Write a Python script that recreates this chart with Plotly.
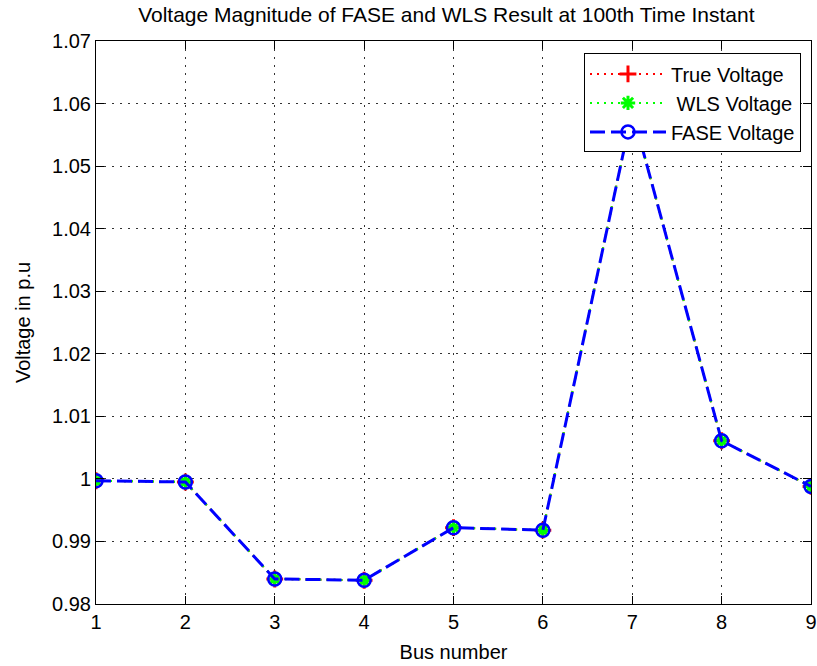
import plotly.graph_objects as go

# Bus indices and per-bus voltage magnitudes (p.u.) at the 100th time instant
bus_number = [1, 2, 3, 4, 5, 6, 7, 8, 9]
true_voltage = [0.9997, 0.9995, 0.9840, 0.9838, 0.9922, 0.9918, 1.0588, 1.0061, 0.9988]
wls_voltage = [0.9997, 0.9995, 0.9840, 0.9838, 0.9922, 0.9918, 1.0588, 1.0061, 0.9988]
fase_voltage = [0.9997, 0.9995, 0.9840, 0.9838, 0.9922, 0.9918, 1.0588, 1.0061, 0.9988]

y_tick_values = [0.98, 0.99, 1.00, 1.01, 1.02, 1.03, 1.04, 1.05, 1.06, 1.07]
y_tick_labels = ["0.98", "0.99", "1", "1.01", "1.02", "1.03", "1.04", "1.05", "1.06", "1.07"]
x_tick_values = [1, 2, 3, 4, 5, 6, 7, 8, 9]

FONT = "Liberation Sans, Arial, sans-serif"

fig = go.Figure()

fig.add_trace(go.Scatter(
    x=bus_number, y=true_voltage, name="True Voltage",
    mode="lines+markers",
    line=dict(color="#ff0000", width=2, dash="2px,5px"),
    marker=dict(symbol="cross-thin-open", size=12, color="#ff0000",
                line=dict(color="#ff0000", width=3)),
))
fig.add_trace(go.Scatter(
    x=bus_number, y=wls_voltage, name=" WLS Voltage",
    mode="lines+markers",
    line=dict(color="#00ff00", width=2, dash="2px,5px"),
    marker=dict(symbol="asterisk-open", size=12, color="#00ff00",
                line=dict(color="#00ff00", width=3)),
))
fig.add_trace(go.Scatter(
    x=bus_number, y=fase_voltage, name="FASE Voltage",
    mode="lines+markers",
    line=dict(color="#0000ff", width=3, dash="15px,6px"),
    marker=dict(symbol="circle-open", size=13, color="#0000ff",
                line=dict(color="#0000ff", width=2.5)),
))

axis_common = dict(
    showline=True, linecolor="#000000", linewidth=1, mirror="ticks",
    ticks="inside", ticklen=8, tickwidth=1, tickcolor="#000000",
    showgrid=True, gridcolor="#333333", gridwidth=1, griddash="2px,6px",
    zeroline=False, automargin=False,
    tickfont=dict(family=FONT, size=20, color="#000000"),
)

fig.update_xaxes(
    range=[1, 9], tickmode="array", tickvals=x_tick_values,
    title=dict(text="Bus number", font=dict(family=FONT, size=20, color="#000000"), standoff=12),
    **axis_common,
)
fig.update_yaxes(
    range=[0.98, 1.07], tickmode="array", tickvals=y_tick_values, ticktext=y_tick_labels,
    title=dict(text="Voltage in p.u", font=dict(family=FONT, size=20, color="#000000"), standoff=16),
    **axis_common,
)

fig.update_layout(
    width=817, height=666,
    margin=dict(l=96, r=6, t=41, b=62),
    paper_bgcolor="#ffffff", plot_bgcolor="#ffffff",
    title=dict(
        text="Voltage Magnitude of FASE and WLS Result at 100th Time Instant",
        font=dict(family=FONT, size=21, color="#000000"),
        x=0.49, xref="paper", xanchor="center",
        y=1 - 15 / 666, yref="container", yanchor="middle",
    ),
    showlegend=True,
    legend=dict(
        x=0.986, y=0.978, xanchor="right", yanchor="top",
        bgcolor="#ffffff", bordercolor="#000000", borderwidth=1,
        font=dict(family=FONT, size=20, color="#000000"),
        itemwidth=76,
    ),
)

fig.write_html("out.html")
